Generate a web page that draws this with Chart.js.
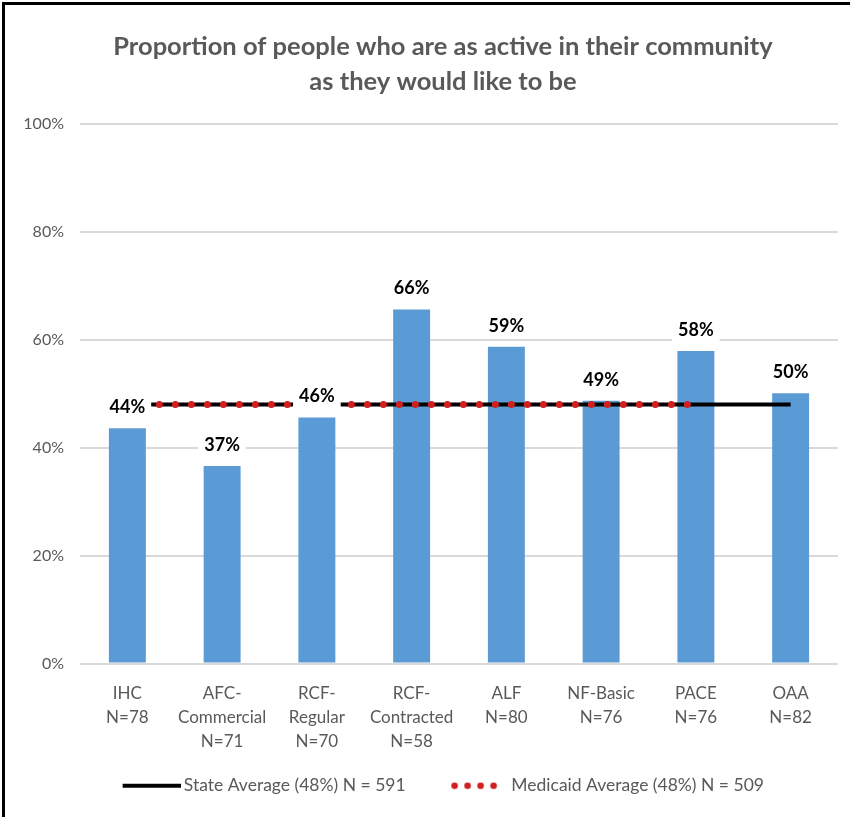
<!DOCTYPE html>
<html>
<head>
<meta charset="utf-8">
<script src="https://cdn.jsdelivr.net/npm/chart.js@4/dist/chart.umd.min.js"></script>
<style>
  html, body { margin: 0; padding: 0; background: #fff; }
  #wrap { position: relative; width: 850px; height: 817px; }
  #frame { position: absolute; left: 2px; top: 2px; right: 0; bottom: 0;
           border-left: 3px solid #000; border-top: 3px solid #000; pointer-events: none; }
</style>
</head>
<body>
<div id="wrap">
  <canvas id="chart" width="850" height="817"></canvas>
  <div id="frame"></div>
</div>
<script>
// categories (multi-line labels)
const categories = [
  ['IHC', 'N=78'],
  ['AFC-', 'Commercial', 'N=71'],
  ['RCF-', 'Regular', 'N=70'],
  ['RCF-', 'Contracted', 'N=58'],
  ['ALF', 'N=80'],
  ['NF-Basic', 'N=76'],
  ['PACE', 'N=76'],
  ['OAA', 'N=82']
];
// proportion (%) per setting
const activeValues = [43.6, 36.6, 45.6, 65.6, 58.7, 48.7, 57.9, 50.1];
// averages
const stateAverage = [48, 48, 48, 48, 48, 48, 48, 48];
const medicaidAverage = [48, 48, 48, 48, 48, 48, 48, null];
const yTicks = [0, 20, 40, 60, 80, 100];

const FONT = "Lato, 'Open Sans', sans-serif";
const GREY = '#595959';
const BLUE = '#5b9bd5';
const RED = '#d01f1f';

// legend markers (drawn to the right of their box centre, close to the text)
function lineIcon() {
  const c = document.createElement('canvas');
  c.width = 98; c.height = 6;
  const g = c.getContext('2d');
  g.fillStyle = '#000';
  g.fillRect(40, 1, 58, 4);
  return c;
}
function dotsIcon() {
  const c = document.createElement('canvas');
  c.width = 98; c.height = 8;
  const g = c.getContext('2d');
  g.fillStyle = RED;
  [44.5, 57.5, 70.5, 83.5].forEach(x => {
    g.beginPath();
    g.arc(x, 4, 3.3, 0, Math.PI * 2);
    g.fill();
  });
  return c;
}

// percent labels with a white box behind them
const barLabels = {
  id: 'barLabels',
  afterDatasetsDraw(chart) {
    const meta = chart.getDatasetMeta(0);
    const ctx = chart.ctx;
    ctx.save();
    ctx.font = 'bold 18px ' + FONT;
    ctx.textAlign = 'center';
    ctx.textBaseline = 'middle';
    meta.data.forEach((bar, i) => {
      const txt = Math.round(activeValues[i]) + '%';
      const w = ctx.measureText(txt).width + 12;
      const cy = bar.y - 21;
      ctx.fillStyle = '#fff';
      ctx.fillRect(bar.x - w / 2, cy - 13, w, 26);
      ctx.fillStyle = '#000';
      ctx.fillText(txt, bar.x, cy);
    });
    ctx.restore();
  }
};

// title and legend sit a bit right of the canvas centre
const nudge = {
  id: 'nudge',
  afterLayout(chart) {
    chart.titleBlock.left += 24;
    chart.titleBlock.right += 24;
    chart.legend.left += 7;
    chart.legend.right += 7;
  }
};

new Chart(document.getElementById('chart'), {
  type: 'bar',
  data: {
    labels: categories,
    datasets: [
      {
        label: 'Proportion',
        data: activeValues,
        backgroundColor: BLUE,
        barPercentage: 0.39,
        categoryPercentage: 1,
        order: 3
      },
      {
        type: 'line',
        label: 'State Average (48%) N = 591',
        data: stateAverage,
        borderColor: '#000',
        borderWidth: 4,
        pointRadius: 0,
        pointStyle: lineIcon(),
        order: 2
      },
      {
        type: 'line',
        label: 'Medicaid Average (48%) N = 509',
        data: medicaidAverage,
        borderColor: RED,
        borderWidth: 7,
        borderDash: [0, 16],
        borderCapStyle: 'round',
        pointRadius: 0,
        pointStyle: dotsIcon(),
        order: 1
      }
    ]
  },
  options: {
    responsive: false,
    animation: false,
    layout: { padding: { left: 0, right: 12, top: 21, bottom: 12.5 } },
    plugins: {
      title: {
        display: true,
        text: ['Proportion of people who are as active in their community', 'as they would like to be'],
        color: GREY,
        font: { family: FONT, size: 25.5, weight: 'bold', lineHeight: 1.37 },
        padding: { top: 8, bottom: 25 }
      },
      legend: {
        position: 'bottom',
        labels: {
          filter: item => item.datasetIndex > 0,
          sort: (a, b) => a.datasetIndex - b.datasetIndex,
          usePointStyle: true,
          pointStyleWidth: 87,
          color: GREY,
          font: { family: FONT, size: 17.5 },
          padding: 10
        }
      },
      tooltip: { enabled: false }
    },
    scales: {
      x: {
        afterFit: s => { s.height = 103.5; },
        grid: { display: false },
        border: { display: false },
        ticks: { color: GREY, font: { family: FONT, size: 17, lineHeight: 1.41 }, maxRotation: 0, autoSkip: false, padding: 10 }
      },
      y: {
        min: 0,
        max: 100,
        afterFit: s => { s.width = 80; },
        afterBuildTicks: s => { s.ticks = yTicks.map(v => ({ value: v })); },
        grid: { color: '#d9d9d9', lineWidth: 2, drawTicks: false },
        border: { display: false },
        ticks: { color: GREY, font: { family: FONT, size: 16 }, padding: 16, callback: v => v + '%' }
      }
    }
  },
  plugins: [barLabels, nudge]
});
</script>
</body>
</html>
